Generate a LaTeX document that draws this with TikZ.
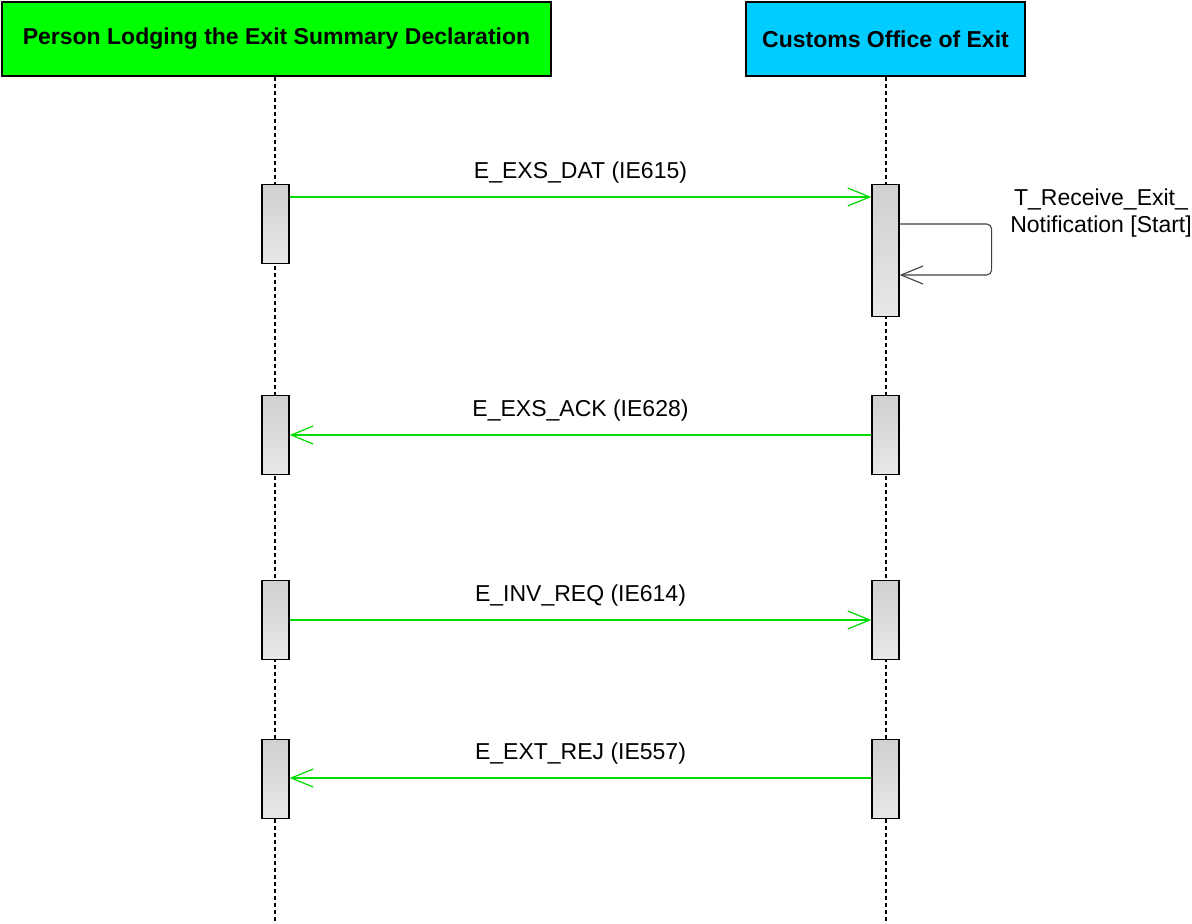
\documentclass[tikz,border=0pt]{standalone}
\usepackage{fontspec}
\setmainfont{Liberation Sans}
\usetikzlibrary{arrows.meta}
\definecolor{hdrgreen}{RGB}{0,255,0}
\definecolor{hdrblue}{RGB}{0,204,255}
\definecolor{msggreen}{RGB}{0,220,0}
\definecolor{bartop}{RGB}{208,208,208}
\definecolor{barbot}{RGB}{232,232,232}
\tikzset{
  header/.style={draw=black, line width=1.3pt, minimum height=74pt, inner sep=0pt,
    font=\fontsize{23}{27}\selectfont\bfseries},
  actbar/.style={draw=black, line width=1.3pt, minimum width=27pt, inner sep=0pt,
    anchor=north, top color=bartop, bottom color=barbot},
  lifeline/.style={draw=black, line width=1.1pt, dash pattern=on 4pt off 3pt},
  msg/.style={draw=msggreen, line width=1.2pt,
    -{Straight Barb[length=22pt,width=18pt,line width=1.2pt]}},
  selfmsg/.style={draw=black!75, line width=1.1pt, rounded corners=5pt,
    -{Straight Barb[length=22pt,width=18pt,line width=1.1pt]}},
  lbl/.style={font=\fontsize{23}{27}\selectfont, inner sep=0pt}
}
\begin{document}
\begin{tikzpicture}[x=1pt,y=-1pt]
\useasboundingbox (0,0) rectangle (1192,924);
\fill[white] (0,0) rectangle (1192,924);

% headers
\node[header, fill=hdrgreen, minimum width=549pt] (P) at (276.5,39) {Person Lodging the Exit Summary Declaration};
\node[header, fill=hdrblue, minimum width=279pt] (C) at (885.5,39) {Customs Office of Exit};

% lifelines
\coordinate (Pend) at (275,924);
\coordinate (Cend) at (886,924);
\draw[lifeline] (P.south -| Pend) -- (Pend);
\draw[lifeline] (C.south -| Cend) -- (Cend);

% activation bars
\node[actbar, minimum height=79pt]  (p1) at (275.5,184) {};
\node[actbar, minimum height=132pt] (c1) at (885.5,184) {};
\node[actbar, minimum height=79pt]  (p2) at (275.5,395) {};
\node[actbar, minimum height=79pt]  (c2) at (885.5,395) {};
\node[actbar, minimum height=79pt]  (p3) at (275.5,580) {};
\node[actbar, minimum height=79pt]  (c3) at (885.5,580) {};
\node[actbar, minimum height=79pt]  (p4) at (275.5,739) {};
\node[actbar, minimum height=79pt]  (c4) at (885.5,739) {};

% messages
\draw[msg] ([yshift=-13pt]p1.north east) -- node[lbl, above=13pt] (m1) {E\_EXS\_DAT (IE615)} ([yshift=-13pt]c1.north west);
\draw[msg] ([yshift=-40pt]c2.north west) -- node[lbl, above=13pt] (m2) {E\_EXS\_ACK (IE628)} ([yshift=-40pt]p2.north east);
\draw[msg] ([yshift=-40pt]p3.north east) -- node[lbl, above=13pt] (m3) {E\_INV\_REQ (IE614)} ([yshift=-40pt]c3.north west);
\draw[msg] ([yshift=-39pt]c4.north west) -- node[lbl, above=13pt] (m4) {E\_EXT\_REJ (IE557)} ([yshift=-39pt]p4.north east);

% self message
\draw[selfmsg] ([yshift=-40pt]c1.north east) -- ++(92,0) -- ++(0,51) -- ([yshift=-91pt]c1.north east);
\node[lbl, align=center] (sl) at (1101,213.5) {T\_Receive\_Exit\_\\Notification [Start]};
\end{tikzpicture}
\end{document}
